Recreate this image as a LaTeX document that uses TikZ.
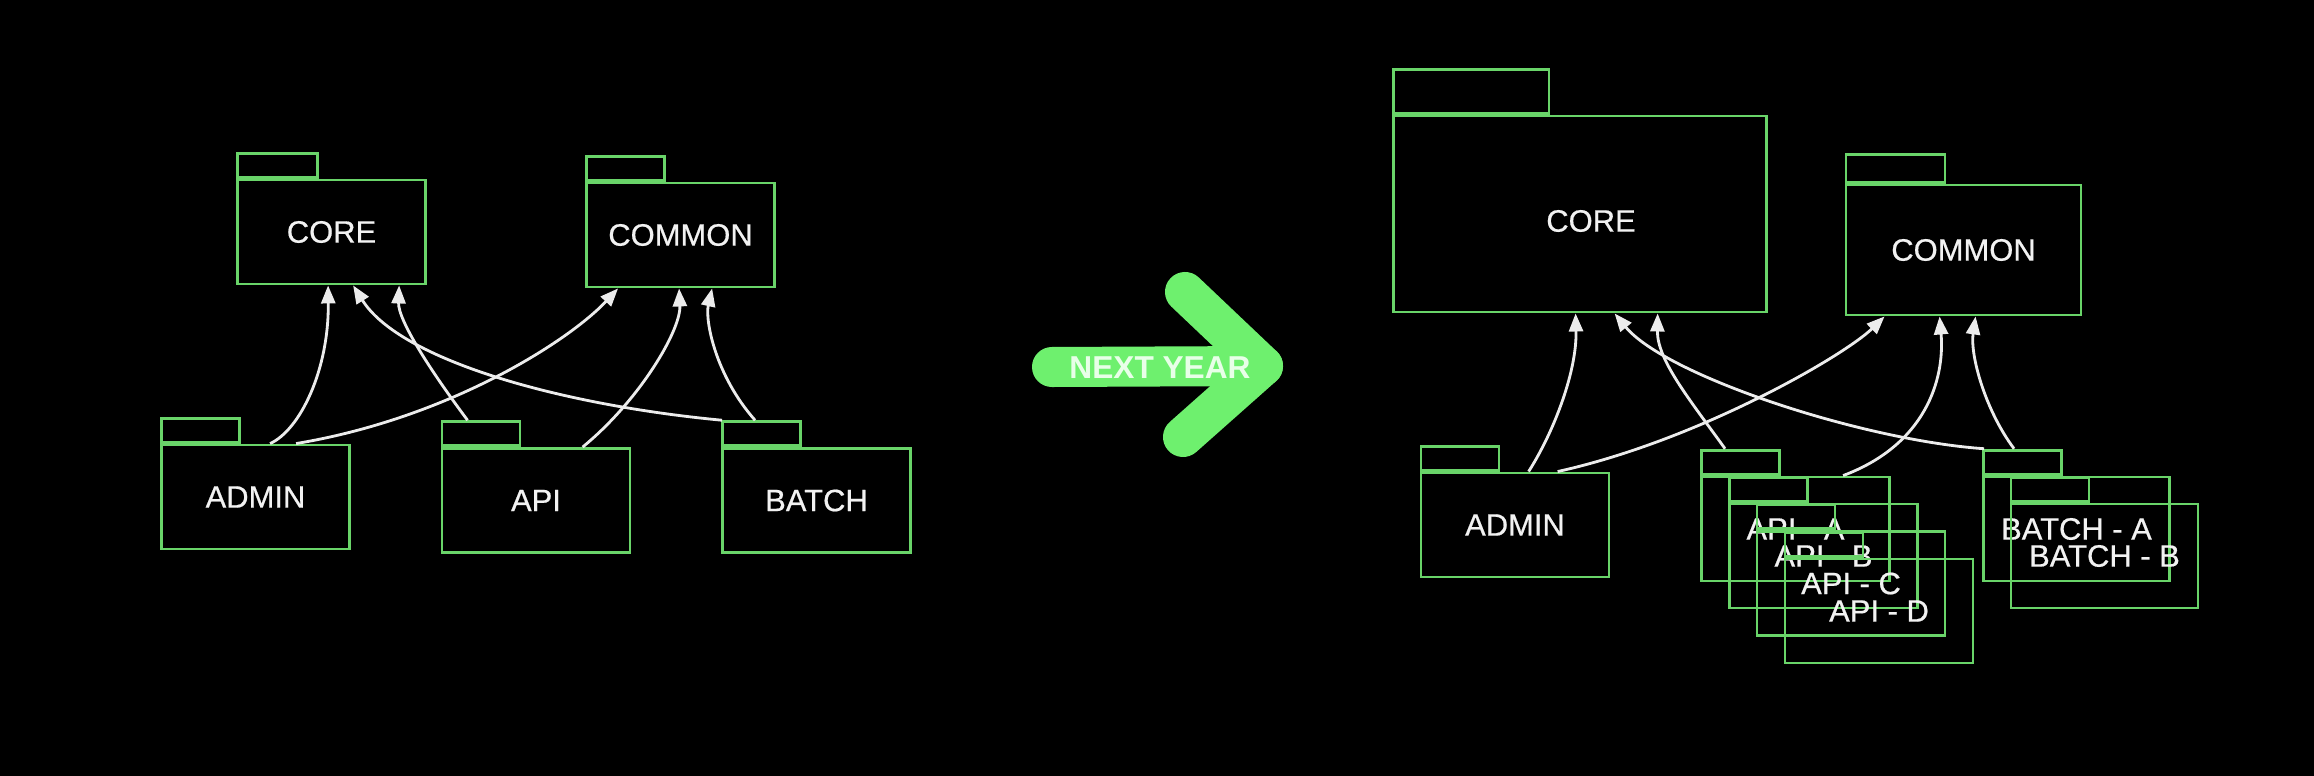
\documentclass[tikz,border=0pt]{standalone}
\usepackage{fontspec}
\setmainfont{Liberation Sans}
\newfontfamily\pkgface[FakeBold=0.6]{Liberation Sans}
\usetikzlibrary{arrows.meta}
\definecolor{pkggreen}{RGB}{105,212,105}
\definecolor{biggreen}{RGB}{110,240,110}
\definecolor{linewhite}{RGB}{236,236,236}
\definecolor{txtwhite}{RGB}{242,242,242}
\definecolor{bigtxt}{RGB}{232,255,232}
\newcommand{\pkgfont}{\pkgface\fontsize{8.8pt}{10pt}\selectfont}
\tikzset{
  pkg/.style={draw=pkggreen, line width=0.8pt, inner sep=0pt, text=txtwhite, font=\pkgfont,
              minimum width=1.88cm, minimum height=1.04cm},
  pkgtab/.style={draw=pkggreen, line width=0.8pt, inner sep=0pt, anchor=south west,
              minimum width=0.78cm, minimum height=0.24cm},
  dep/.style={draw=linewhite, line width=0.8pt, -{Triangle[length=0.18cm,width=0.14cm]}},
  bigarrow/.style={draw=biggreen, line width=0.4cm, line cap=round, line join=round},
  lbl/.style={text=txtwhite, font=\pkgfont, inner sep=0pt}
}
\begin{document}
\begin{tikzpicture}[x=0.01cm, y=-0.01cm]
\fill[black] (0,0) rectangle (2314,776);
\useasboundingbox (0,0) rectangle (2314,776);

% ---------- left diagram ----------
\node[pkg] (core) at (331.5,232) {CORE};
\node[pkgtab, minimum width=0.80cm] (coreT) at (core.north west) {};
\node[pkg] (common) at (680.5,235) {COMMON};
\node[pkgtab] (commonT) at (common.north west) {};
\node[pkg] (admin) at (255.5,497) {ADMIN};
\node[pkgtab] (adminT) at (admin.north west) {};
\node[pkg] (api) at (536,500.5) {API};
\node[pkgtab] (apiT) at (api.north west) {};
\node[pkg] (batch) at (816.5,500.5) {BATCH};
\node[pkgtab] (batchT) at (batch.north west) {};

\draw[dep] ([xshift=1.10cm]admin.north west) .. controls (300,430) and (329,370) .. ([xshift=0.92cm]core.south west);
\draw[dep] ([xshift=1.36cm]admin.north west) .. controls (450,418) and (570,340) .. ([xshift=0.33cm]common.south west);
\draw[dep] ([xshift=0.27cm]apiT.north west) .. controls (430,370) and (398,320) .. ([xshift=1.63cm]core.south west);
\draw[dep] ([xshift=1.42cm]api.north west) .. controls (640,400) and (681,330) .. ([xshift=0.94cm]common.south west);
\draw[dep] ([xshift=0.01cm]batchT.north west) .. controls (560,405) and (400,360) .. ([xshift=1.17cm]core.south west);
\draw[dep] ([xshift=0.34cm]batchT.north west) .. controls (715,375) and (705,320) .. ([xshift=1.27cm]common.south west);

% ---------- NEXT YEAR arrow ----------
\coordinate (shaftL) at (1052,367);
\coordinate (tip) at (1263,366);
\coordinate (armU) at (1185,292);
\coordinate (armD) at (1183,437);
\draw[bigarrow] (shaftL) -- (tip);
\draw[bigarrow] (armU) -- (tip) -- (armD);
\node[text=bigtxt, font=\fontsize{9pt}{10pt}\selectfont\bfseries, inner sep=0pt] (nextyear) at (1160,368) {NEXT YEAR};

% ---------- right diagram ----------
\node[pkg, minimum width=3.72cm, minimum height=1.96cm] (core2) at (1580,214) {};
\node[lbl] (core2lbl) at (1591,221) {CORE};
\node[pkgtab, minimum width=1.55cm, minimum height=0.44cm] (core2T) at (core2.north west) {};
\node[pkg, minimum width=2.35cm, minimum height=1.30cm] (common2) at (1963.5,250) {COMMON};
\node[pkgtab, minimum width=0.99cm, minimum height=0.28cm] (common2T) at (common2.north west) {};
\node[pkg] (admin2) at (1515,525) {ADMIN};
\node[pkgtab] (admin2T) at (admin2.north west) {};

\node[pkg] (apiA) at (1795.5,529) {API - A};
\node[pkgtab] (apiAT) at (apiA.north west) {};
\node[pkg] (apiB) at (1823.5,556) {API - B};
\node[pkgtab] (apiBT) at (apiB.north west) {};
\node[pkg] (apiC) at (1851,583.5) {API - C};
\node[pkgtab] (apiCT) at (apiC.north west) {};
\node[pkg] (apiD) at (1879,611) {API - D};
\node[pkgtab] (apiDT) at (apiD.north west) {};

\node[pkg, minimum width=1.86cm] (batchA) at (2076.5,529) {BATCH - A};
\node[pkgtab] (batchAT) at (batchA.north west) {};
\node[pkg, minimum width=1.87cm] (batchB) at (2104.5,556) {BATCH - B};
\node[pkgtab] (batchBT) at (batchB.north west) {};

\draw[dep] ([xshift=1.09cm]admin2.north west) .. controls (1555,430) and (1577,370) .. ([xshift=1.83cm]core2.south west);
\draw[dep] ([xshift=1.38cm]admin2.north west) .. controls (1700,440) and (1845,355) .. ([xshift=0.40cm]common2.south west);
\draw[dep] ([xshift=0.25cm]apiAT.north west) .. controls (1690,400) and (1657,360) .. ([xshift=2.65cm]core2.south west);
\draw[dep] ([xshift=1.43cm]apiA.north west) .. controls (1925,445) and (1945,380) .. ([xshift=0.95cm]common2.south west);
\draw[dep] ([xshift=0.02cm]batchAT.north west) .. controls (1860,440) and (1665,375) .. ([xshift=2.22cm]core2.south west);
\draw[dep] ([xshift=0.32cm]batchAT.north west) .. controls (1985,410) and (1970,355) .. ([xshift=1.31cm]common2.south west);
\end{tikzpicture}
\end{document}
